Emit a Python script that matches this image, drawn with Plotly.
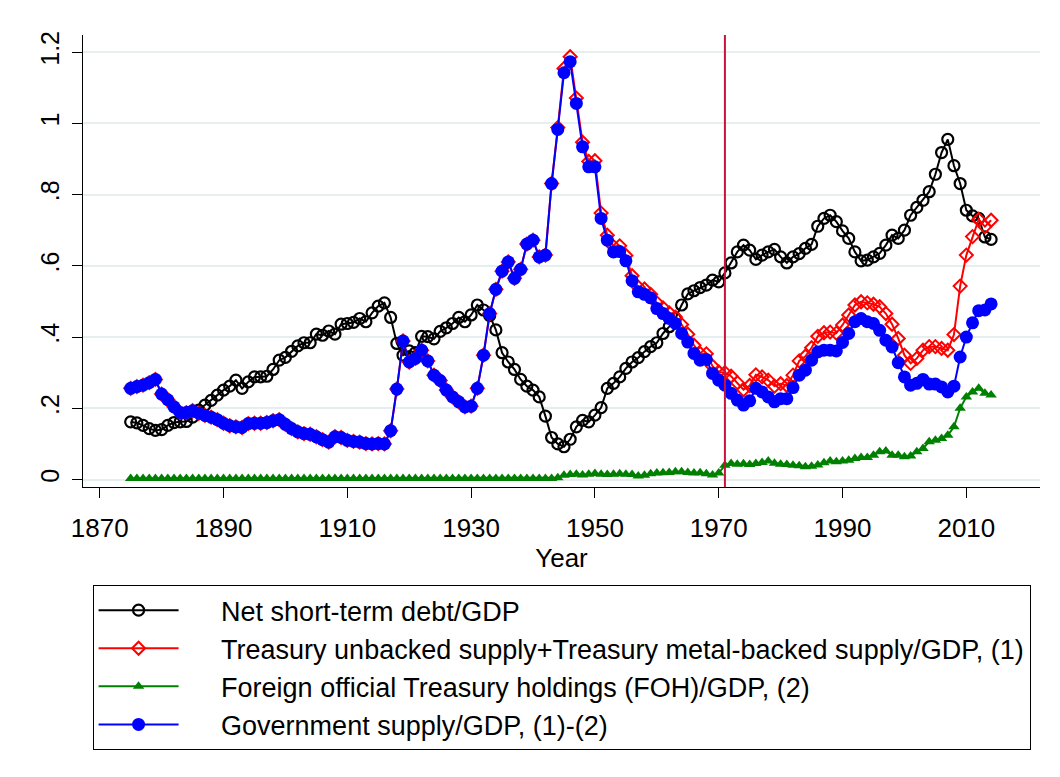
import plotly.graph_objects as go

# Annual observations, 1875-2014
years = list(range(1875, 2015))

net_short_term_debt = [
    0.162, 0.159, 0.152, 0.143, 0.138, 0.140, 0.152, 0.160, 0.162, 0.163,
    0.175, 0.195, 0.209, 0.222, 0.237, 0.251, 0.262, 0.279, 0.256, 0.274,
    0.288, 0.288, 0.290, 0.309, 0.335, 0.343, 0.360, 0.375, 0.384, 0.384,
    0.408, 0.405, 0.417, 0.408, 0.436, 0.438, 0.441, 0.452, 0.443, 0.468,
    0.487, 0.496, 0.455, 0.382, 0.349, 0.361, 0.356, 0.402, 0.401, 0.395,
    0.416, 0.426, 0.438, 0.455, 0.443, 0.462, 0.490, 0.476, 0.460, 0.420,
    0.356, 0.330, 0.309, 0.281, 0.262, 0.251, 0.232, 0.178, 0.118, 0.100,
    0.092, 0.113, 0.148, 0.166, 0.162, 0.181, 0.202, 0.256, 0.270, 0.288,
    0.312, 0.330, 0.342, 0.359, 0.373, 0.384, 0.410, 0.429, 0.452, 0.490,
    0.521, 0.530, 0.539, 0.546, 0.560, 0.555, 0.580, 0.608, 0.639, 0.658,
    0.644, 0.618, 0.630, 0.639, 0.646, 0.625, 0.608, 0.625, 0.634, 0.649,
    0.660, 0.711, 0.733, 0.742, 0.724, 0.698, 0.677, 0.639, 0.614, 0.616,
    0.625, 0.635, 0.658, 0.686, 0.677, 0.700, 0.742, 0.764, 0.784, 0.808,
    0.857, 0.918, 0.955, 0.881, 0.831, 0.756, 0.740, 0.733, 0.681, 0.674,
]

# (1) Treasury unbacked + metal-backed supply / GDP
treasury_supply = [
    0.256, 0.261, 0.265, 0.272, 0.281, 0.240, 0.224, 0.204, 0.188, 0.188,
    0.193, 0.186, 0.180, 0.175, 0.168, 0.158, 0.151, 0.148, 0.146, 0.157,
    0.158, 0.158, 0.160, 0.165, 0.168, 0.155, 0.143, 0.134, 0.129, 0.127,
    0.120, 0.112, 0.105, 0.120, 0.118, 0.110, 0.107, 0.105, 0.101, 0.100,
    0.101, 0.100, 0.137, 0.254, 0.389, 0.330, 0.340, 0.363, 0.333, 0.293,
    0.278, 0.251, 0.232, 0.218, 0.204, 0.206, 0.256, 0.349, 0.466, 0.534,
    0.585, 0.611, 0.565, 0.590, 0.661, 0.672, 0.625, 0.630, 0.831,
    0.988, 1.154, 1.187, 1.071, 0.947, 0.893, 0.895, 0.748, 0.686, 0.654,
    0.656, 0.629, 0.572,
    0.540, 0.535, 0.520, 0.496, 0.482, 0.468, 0.456, 0.435, 0.408, 0.377,
    0.354, 0.353, 0.318, 0.302, 0.300, 0.290, 0.272, 0.252, 0.264, 0.294,
    0.288, 0.279, 0.262, 0.269, 0.264, 0.293, 0.333, 0.346, 0.370, 0.402,
    0.412, 0.414, 0.411, 0.434, 0.462, 0.490, 0.499, 0.496, 0.492, 0.485,
    0.466, 0.436, 0.396, 0.349, 0.326, 0.340, 0.363, 0.373, 0.373, 0.368,
    0.363, 0.407, 0.543, 0.630, 0.682, 0.730, 0.710, 0.728,
]

# (2) Foreign official Treasury holdings / GDP
foh = [
    0.003, 0.003, 0.003, 0.003, 0.003, 0.003, 0.003, 0.003, 0.003, 0.003,
    0.003, 0.003, 0.003, 0.003, 0.003, 0.003, 0.003, 0.003, 0.003, 0.003,
    0.003, 0.003, 0.003, 0.003, 0.003, 0.003, 0.003, 0.003, 0.003, 0.003,
    0.003, 0.003, 0.003, 0.003, 0.003, 0.003, 0.003, 0.003, 0.003, 0.003,
    0.003, 0.003, 0.003, 0.003, 0.003, 0.003, 0.003, 0.003, 0.003, 0.003,
    0.003, 0.003, 0.003, 0.003, 0.003, 0.003, 0.003, 0.003, 0.003, 0.003,
    0.003, 0.003, 0.003, 0.003, 0.003, 0.003, 0.003, 0.003, 0.003,
    0.005, 0.012, 0.014, 0.015, 0.013, 0.015, 0.017, 0.015, 0.014, 0.015,
    0.016, 0.015, 0.014, 0.010, 0.012, 0.016, 0.018, 0.019, 0.020, 0.022,
    0.022, 0.020, 0.018, 0.019, 0.016, 0.013, 0.018, 0.040, 0.045, 0.043,
    0.044, 0.042, 0.045, 0.048, 0.052, 0.046, 0.043, 0.042, 0.040, 0.039,
    0.036, 0.037, 0.041, 0.047, 0.052, 0.050, 0.052, 0.054, 0.059, 0.062,
    0.062, 0.068, 0.078, 0.080, 0.068, 0.068, 0.064, 0.066, 0.078, 0.087,
    0.106, 0.110, 0.115, 0.124, 0.148, 0.200, 0.232, 0.246, 0.256, 0.242, 0.237,
]

# (1)-(2) Government supply / GDP
gov_supply = [
    0.256, 0.261, 0.265, 0.272, 0.281, 0.240, 0.224, 0.204, 0.188, 0.188,
    0.193, 0.186, 0.180, 0.175, 0.168, 0.158, 0.151, 0.148, 0.146, 0.157,
    0.158, 0.158, 0.160, 0.165, 0.168, 0.155, 0.143, 0.134, 0.129, 0.127,
    0.120, 0.112, 0.105, 0.120, 0.118, 0.110, 0.107, 0.105, 0.101, 0.100,
    0.101, 0.100, 0.137, 0.254, 0.389, 0.330, 0.340, 0.363, 0.333, 0.293,
    0.278, 0.251, 0.232, 0.218, 0.204, 0.206, 0.256, 0.349, 0.466, 0.534,
    0.585, 0.611, 0.565, 0.590, 0.661, 0.672, 0.625, 0.630, 0.831, 0.983,
    1.142, 1.173, 1.056, 0.934, 0.878, 0.878, 0.733, 0.672, 0.639, 0.640,
    0.614, 0.558, 0.527, 0.520, 0.510, 0.480, 0.466, 0.452, 0.438, 0.410,
    0.386, 0.354, 0.335, 0.337, 0.298, 0.279, 0.265, 0.242, 0.223, 0.209,
    0.221, 0.256, 0.246, 0.232, 0.218, 0.227, 0.227, 0.258, 0.293, 0.307,
    0.335, 0.358, 0.363, 0.363, 0.361, 0.385, 0.410, 0.443, 0.452, 0.443,
    0.438, 0.419, 0.391, 0.372, 0.328, 0.288, 0.265, 0.270, 0.281, 0.268,
    0.268, 0.260, 0.246, 0.262, 0.344, 0.400, 0.440, 0.474, 0.476, 0.493,
]

y_ticks = [0, 0.2, 0.4, 0.6, 0.8, 1.0, 1.2]
y_ticklabels = ["0", ".2", ".4", ".6", ".8", "1", "1.2"]
x_ticks = [1870, 1890, 1910, 1930, 1950, 1970, 1990, 2010]
break_year = 1971

for s in (net_short_term_debt, treasury_supply, foh, gov_supply):
    assert len(s) == len(years), len(s)

FONT = "Liberation Sans, Arial, Helvetica, sans-serif"
GRID = "#e6eef0"
PAD = "\u00a0" * 5  # gap between legend key and label, as in the Stata legend

series = [
    ("Net short-term debt/GDP", net_short_term_debt, "#000000",
     dict(symbol="circle-open", size=11, line=dict(width=2.2, color="#000000"))),
    ("Treasury unbacked supply+Treasury metal-backed supply/GDP, (1)", treasury_supply, "#ff0000",
     dict(symbol="diamond-open", size=10, line=dict(width=2, color="#ff0000"))),
    ("Foreign official Treasury holdings (FOH)/GDP, (2)", foh, "#008000",
     dict(symbol="triangle-up", size=10, color="#008000")),
    ("Government supply/GDP, (1)-(2)", gov_supply, "#0000ff",
     dict(symbol="circle", size=13, color="#0000ff")),
]

fig = go.Figure()
for name, vals, color, marker in series:
    fig.add_trace(go.Scatter(
        x=years, y=vals, name=PAD + name, mode="lines+markers",
        line=dict(color=color, width=2),
        marker=marker,
    ))

fig.add_shape(type="line", xref="x", yref="paper",
              x0=break_year, x1=break_year, y0=0, y1=1,
              line=dict(color="#c8143c", width=2))

# the page body adds an 8px offset, so the figure is 8px smaller than the window
fig.update_layout(
    width=1052, height=769, autosize=False,
    paper_bgcolor="white", plot_bgcolor="white",
    margin=dict(l=75, r=20, t=27, b=290),
    font=dict(family=FONT, size=25, color="black"),
    showlegend=True,
    legend=dict(
        x=0.01, y=-0.217, xanchor="left", yanchor="top",
        bordercolor="black", borderwidth=1, bgcolor="white",
        font=dict(size=27), itemwidth=80,
    ),
    xaxis=dict(
        range=[1867.3, 2021.9], tickvals=x_ticks,
        showgrid=False, zeroline=False,
        showline=True, linecolor="black", linewidth=1,
        ticks="outside", ticklen=10, tickcolor="black",
        tickfont=dict(size=26), ticklabelstandoff=8,
        title=dict(text="Year", font=dict(size=26), standoff=0),
    ),
    yaxis=dict(
        range=[-0.021, 1.248], tickvals=y_ticks, ticktext=y_ticklabels,
        tickangle=-90,
        showgrid=True, gridcolor=GRID, gridwidth=2, zeroline=False,
        showline=True, linecolor="black", linewidth=1,
        ticks="outside", ticklen=10, tickcolor="black",
        tickfont=dict(size=25), ticklabelstandoff=3,
    ),
)

fig.write_html("out.html")
